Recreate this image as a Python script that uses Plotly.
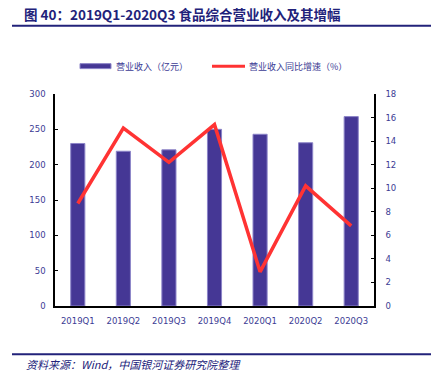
import plotly.graph_objects as go

quarters = ["2019Q1", "2019Q2", "2019Q3", "2019Q4", "2020Q1", "2020Q2", "2020Q3"]
revenue = [230, 219, 221, 250, 243, 231, 268]
growth = [8.7, 15.1, 12.2, 15.4, 2.9, 10.2, 6.8]
left_ticks = [0, 50, 100, 150, 200, 250, 300]
right_ticks = [0, 2, 4, 6, 8, 10, 12, 14, 16, 18]

BAR = "#453795"
RED = "#ff3333"
TXT = "#3b3b94"
NAVY = "#22227a"

W, H = 431, 376
L, R, T, B = 55, 374, 93.5, 306.5

def px(x):
    return (x - L) / (R - L)

def py(y):
    return (B - y) / (B - T)

fig = go.Figure()
fig.add_trace(go.Bar(x=quarters, y=revenue, width=0.31, marker=dict(color=BAR, line=dict(color="#8c84c8", width=1)),
                     name="营业收入（亿元）", showlegend=False))
fig.add_trace(go.Scatter(x=quarters, y=growth, yaxis="y2", mode="lines", line=dict(color=RED, width=3.5),
                         name="营业收入同比增速（%）", showlegend=False))

tickfont = dict(family="DejaVu Sans", size=8.5, color=TXT)
fig.update_layout(
    width=W, height=H,
    margin=dict(l=L, r=W - R, t=T, b=H - B, pad=0),
    paper_bgcolor="white", plot_bgcolor="white",
    xaxis=dict(showline=True, linecolor="black", linewidth=1.5, ticks="", tickfont=tickfont,
               showgrid=False, zeroline=False, ticklabelstandoff=6),
    yaxis=dict(range=[0, 300], tickvals=left_ticks, showline=True, linecolor="black", linewidth=1.5,
               ticks="inside", ticklen=3, tickcolor="black", tickfont=tickfont, showgrid=False,
               zeroline=False, ticklabelstandoff=6),
    yaxis2=dict(range=[0, 18], tickvals=right_ticks, overlaying="y", side="right", showline=True,
                linecolor="black", linewidth=1.5, ticks="inside", ticklen=3, tickcolor="black",
                tickfont=tickfont, showgrid=False, zeroline=False, ticklabelstandoff=8),
    showlegend=False,
)

shapes = []
annotations = []
# title and rule
annotations.append(dict(text="<b>图 40：2019Q1-2020Q3 食品综合营业收入及其增幅</b>", xref="paper", yref="paper",
                        x=px(22), y=py(13), xanchor="left", yanchor="middle", showarrow=False,
                        font=dict(family="Noto Sans CJK SC", size=13.5, color=NAVY)))
shapes.append(dict(type="line", xref="paper", yref="paper", x0=px(12), x1=px(431), y0=py(25), y1=py(25),
                   line=dict(color=NAVY, width=2)))
# legend
shapes.append(dict(type="rect", xref="paper", yref="paper", x0=px(80), x1=px(111), y0=py(63), y1=py(68),
                   fillcolor=BAR, line=dict(color="#8c84c8", width=1)))
shapes.append(dict(type="line", xref="paper", yref="paper", x0=px(212), x1=px(245), y0=py(65.5), y1=py(65.5),
                   line=dict(color=RED, width=3)))
annotations.append(dict(text="营业收入（亿元）", xref="paper", yref="paper", x=px(114), y=py(65.5),
                        xanchor="left", yanchor="middle", showarrow=False,
                        font=dict(family="Noto Sans CJK SC", size=9, color=TXT)))
annotations.append(dict(text="营业收入同比增速（%）", xref="paper", yref="paper", x=px(247), y=py(65.5),
                        xanchor="left", yanchor="middle", showarrow=False,
                        font=dict(family="Noto Sans CJK SC", size=9, color=TXT)))
# source
shapes.append(dict(type="line", xref="paper", yref="paper", x0=px(12), x1=px(431), y0=py(355), y1=py(355),
                   line=dict(color=NAVY, width=2)))
annotations.append(dict(text="<i>资料来源：Wind，中国银河证券研究院整理</i>", xref="paper", yref="paper",
                        x=px(24), y=py(365), xanchor="left", yanchor="middle", showarrow=False,
                        font=dict(family="Noto Sans CJK SC", size=11, color=NAVY)))
fig.update_layout(shapes=shapes, annotations=annotations)

fig.write_html("out.html", config={"displayModeBar": False},
               post_script="document.body.style.margin='0';document.body.style.overflow='hidden';")
